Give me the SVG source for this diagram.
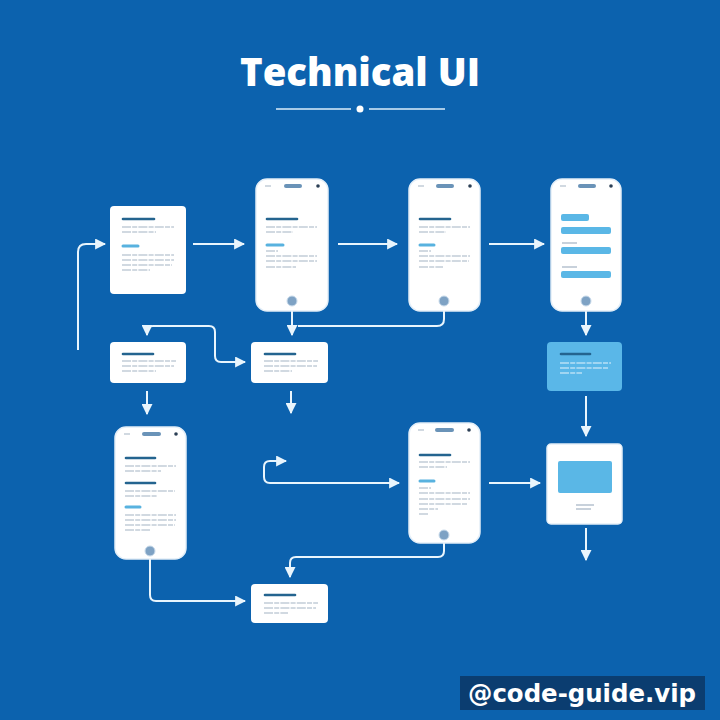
<svg xmlns="http://www.w3.org/2000/svg" width="720" height="720" viewBox="0 0 720 720">
<style>
.bg{fill:#0c62ae}
.card{fill:#ffffff}
.phone{fill:#ffffff;stroke:#e3eef8;stroke-width:1.5}
.dark{stroke:#24648f;stroke-width:2.6;stroke-linecap:round}
.lb{stroke:#58b2df;stroke-width:3;stroke-linecap:round}
.tx{stroke:#a3b3c3;stroke-width:1;stroke-dasharray:9 1.2 5 1.2}
.txs{stroke:#a3b3c3;stroke-width:1.2}
.txw{stroke:#e6f4fc;stroke-width:1;stroke-dasharray:9 1.2 5 1.2}
.pill{fill:#6a93b8}
.dot{fill:#2b3f55}
.home{fill:#7ea2c4;stroke:#c9dbeb;stroke-width:1}
.field{fill:#5ab7e6}
.conn{fill:none;stroke:#e9f5fd;stroke-width:2;stroke-linejoin:round}
.title{font-family:"Open Sans","Liberation Sans",sans-serif;font-weight:800;font-size:38px;fill:#ffffff}
.wm{font-family:"DejaVu Sans","Liberation Sans",sans-serif;font-weight:bold;font-size:24px;fill:#ffffff}
</style>
<defs>
<marker id="ah" viewBox="0 0 10 10" refX="9" refY="5" markerWidth="5.5" markerHeight="5.5" orient="auto-start-reverse">
<path d="M0,0 L10,5 L0,10 Z" fill="#e9f5fd"/>
</marker>
</defs>
<rect class="bg" x="0" y="0" width="720" height="720"/>

<g id="title">
<text class="title" x="360" y="86" text-anchor="middle" textLength="240" lengthAdjust="spacingAndGlyphs">Technical UI</text>
<line x1="276" y1="109" x2="351" y2="109" stroke="#dbeefa" stroke-width="1.5"/>
<circle cx="360" cy="109" r="3.5" fill="#ffffff"/>
<line x1="369" y1="109" x2="445" y2="109" stroke="#dbeefa" stroke-width="1.5"/>
</g>

<g id="connectors">
<path class="conn" d="M78,350 V252 Q78,244 86,244 H105" marker-end="url(#ah)"/>
<path class="conn" d="M193,244 H244" marker-end="url(#ah)"/>
<path class="conn" d="M338,244 H397" marker-end="url(#ah)"/>
<path class="conn" d="M489,244 H544" marker-end="url(#ah)"/>
<path class="conn" d="M292,311 V335" marker-end="url(#ah)"/>
<path class="conn" d="M444,311 V319 Q444,326 437,326 H298"/>
<path class="conn" d="M147,335 V332 Q147,326 153,326 H209 Q215,326 215,332 V356 Q215,362 221,362 H245" marker-start="url(#ah)" marker-end="url(#ah)"/>
<path class="conn" d="M147,391 V414" marker-end="url(#ah)"/>
<path class="conn" d="M291,391 V413" marker-end="url(#ah)"/>
<path class="conn" d="M586,311 V335" marker-end="url(#ah)"/>
<path class="conn" d="M586,396 V436" marker-end="url(#ah)"/>
<path class="conn" d="M586,528 V560" marker-end="url(#ah)"/>
<path class="conn" d="M286,461 H270 Q264,461 264,467 V477 Q264,483 270,483 H399" marker-start="url(#ah)" marker-end="url(#ah)"/>
<path class="conn" d="M489,483 H540" marker-end="url(#ah)"/>
<path class="conn" d="M444,543 V551 Q444,557 438,557 H296 Q290,557 290,563 V577" marker-end="url(#ah)"/>
<path class="conn" d="M150,559 V595 Q150,601 156,601 H245" marker-end="url(#ah)"/>
</g>

<g id="cardA">
<rect class="card" x="110" y="206" width="76" height="88" rx="4"/>
<line class="dark" x1="123" y1="219" x2="154" y2="219"/>
<line class="tx" x1="122" y1="227" x2="174" y2="227"/>
<line class="tx" x1="122" y1="232" x2="156" y2="232"/>
<line class="lb" x1="123" y1="246" x2="138" y2="246"/>
<line class="tx" x1="122" y1="255" x2="174" y2="255"/>
<line class="tx" x1="122" y1="260" x2="174" y2="260"/>
<line class="tx" x1="122" y1="265" x2="172" y2="265"/>
<line class="tx" x1="122" y1="270" x2="150" y2="270"/>
</g>

<g id="phoneB">
<rect class="phone" x="256" y="179" width="72" height="132" rx="11"/>
<line class="tx" x1="265" y1="186" x2="271" y2="186"/>
<rect class="pill" x="284" y="184" width="18" height="4" rx="2"/>
<circle class="dot" cx="318" cy="186" r="1.8"/>
<line class="dark" x1="267" y1="219" x2="297" y2="219"/>
<line class="tx" x1="266" y1="227" x2="317" y2="227"/>
<line class="tx" x1="266" y1="232" x2="293" y2="232"/>
<line class="lb" x1="267" y1="245" x2="283" y2="245"/>
<line class="tx" x1="266" y1="251" x2="278" y2="251"/>
<line class="tx" x1="266" y1="256" x2="317" y2="256"/>
<line class="tx" x1="266" y1="261" x2="317" y2="261"/>
<line class="tx" x1="266" y1="267" x2="296" y2="267"/>
<circle class="home" cx="292" cy="301" r="5"/>
</g>

<g id="phoneC">
<rect class="phone" x="409" y="179" width="71" height="132" rx="11"/>
<line class="tx" x1="418" y1="186" x2="424" y2="186"/>
<rect class="pill" x="436" y="184" width="18" height="4" rx="2"/>
<circle class="dot" cx="470" cy="186" r="1.8"/>
<line class="dark" x1="420" y1="219" x2="450" y2="219"/>
<line class="tx" x1="419" y1="227" x2="470" y2="227"/>
<line class="tx" x1="419" y1="232" x2="446" y2="232"/>
<line class="lb" x1="420" y1="245" x2="434" y2="245"/>
<line class="tx" x1="419" y1="251" x2="431" y2="251"/>
<line class="tx" x1="419" y1="256" x2="470" y2="256"/>
<line class="tx" x1="419" y1="261" x2="469" y2="261"/>
<line class="tx" x1="419" y1="267" x2="443" y2="267"/>
<circle class="home" cx="444" cy="301" r="5"/>
</g>

<g id="phoneD">
<rect class="phone" x="551" y="179" width="70" height="132" rx="11"/>
<line class="tx" x1="560" y1="186" x2="566" y2="186"/>
<rect class="pill" x="578" y="184" width="18" height="4" rx="2"/>
<circle class="dot" cx="611" cy="186" r="1.8"/>
<rect class="field" x="561" y="214" width="28" height="7" rx="2"/>
<rect class="field" x="561" y="227" width="50" height="7" rx="2"/>
<line class="txs" x1="562" y1="243" x2="577" y2="243"/>
<rect class="field" x="561" y="247" width="50" height="7" rx="2"/>
<line class="txs" x1="562" y1="267" x2="577" y2="267"/>
<rect class="field" x="561" y="271" width="50" height="7" rx="2"/>
<circle class="home" cx="586" cy="301" r="5"/>
</g>

<g id="cardE">
<rect class="card" x="110" y="342" width="76" height="41" rx="4"/>
<line class="dark" x1="123" y1="354" x2="153" y2="354"/>
<line class="tx" x1="122" y1="361" x2="176" y2="361"/>
<line class="tx" x1="122" y1="366" x2="174" y2="366"/>
<line class="tx" x1="122" y1="371" x2="156" y2="371"/>
</g>

<g id="cardF">
<rect class="card" x="251" y="342" width="77" height="41" rx="4"/>
<line class="dark" x1="265" y1="354" x2="295" y2="354"/>
<line class="tx" x1="264" y1="361" x2="318" y2="361"/>
<line class="tx" x1="264" y1="366" x2="317" y2="366"/>
<line class="tx" x1="264" y1="371" x2="292" y2="371"/>
</g>

<g id="cardG">
<rect x="547" y="342" width="75" height="49" rx="4" fill="#5ab7e8"/>
<line class="dark" x1="561" y1="354" x2="590" y2="354"/>
<line class="txw" x1="560" y1="363" x2="611" y2="363"/>
<line class="txw" x1="560" y1="368" x2="609" y2="368"/>
<line class="txw" x1="560" y1="373" x2="582" y2="373"/>
</g>

<g id="phoneH">
<rect class="phone" x="115" y="427" width="71" height="132" rx="11"/>
<line class="tx" x1="124" y1="434" x2="130" y2="434"/>
<rect class="pill" x="142" y="432" width="19" height="4" rx="2"/>
<circle class="dot" cx="176" cy="434" r="1.8"/>
<line class="dark" x1="126" y1="458" x2="155" y2="458"/>
<line class="tx" x1="125" y1="466" x2="176" y2="466"/>
<line class="tx" x1="125" y1="471" x2="161" y2="471"/>
<line class="dark" x1="126" y1="483" x2="155" y2="483"/>
<line class="tx" x1="125" y1="491" x2="175" y2="491"/>
<line class="tx" x1="125" y1="496" x2="157" y2="496"/>
<line class="lb" x1="126" y1="507" x2="140" y2="507"/>
<line class="tx" x1="125" y1="515" x2="176" y2="515"/>
<line class="tx" x1="125" y1="520" x2="176" y2="520"/>
<line class="tx" x1="125" y1="525" x2="175" y2="525"/>
<line class="tx" x1="125" y1="530" x2="150" y2="530"/>
<circle class="home" cx="150" cy="551" r="5"/>
</g>

<g id="phoneI">
<rect class="phone" x="409" y="423" width="71" height="120" rx="11"/>
<line class="tx" x1="418" y1="430" x2="424" y2="430"/>
<rect class="pill" x="435" y="428" width="19" height="4" rx="2"/>
<circle class="dot" cx="469" cy="430" r="1.8"/>
<line class="dark" x1="420" y1="455" x2="450" y2="455"/>
<line class="tx" x1="419" y1="462" x2="470" y2="462"/>
<line class="tx" x1="419" y1="467" x2="447" y2="467"/>
<line class="lb" x1="420" y1="481" x2="434" y2="481"/>
<line class="tx" x1="419" y1="488" x2="431" y2="488"/>
<line class="tx" x1="419" y1="493" x2="470" y2="493"/>
<line class="tx" x1="419" y1="499" x2="470" y2="499"/>
<line class="tx" x1="419" y1="504" x2="468" y2="504"/>
<line class="tx" x1="419" y1="509" x2="438" y2="509"/>
<line class="tx" x1="419" y1="514" x2="428" y2="514"/>
<circle class="home" cx="444" cy="535" r="5"/>
</g>

<g id="cardJ">
<rect class="card" x="547" y="444" width="75" height="80" rx="4" stroke="#e3eef8" stroke-width="1.5"/>
<rect class="field" x="558" y="461" width="54" height="32" rx="2"/>
<line class="txs" x1="576" y1="505" x2="594" y2="505"/>
<line class="txs" x1="576" y1="509" x2="591" y2="509"/>
</g>

<g id="cardK">
<rect class="card" x="251" y="584" width="77" height="39" rx="4"/>
<line class="dark" x1="265" y1="595" x2="295" y2="595"/>
<line class="tx" x1="264" y1="603" x2="318" y2="603"/>
<line class="tx" x1="264" y1="608" x2="316" y2="608"/>
<line class="tx" x1="264" y1="613" x2="288" y2="613"/>
</g>

<g id="watermark">
<rect x="460" y="676" width="245" height="34" fill="#0b3d70"/>
<text class="wm" x="582" y="702" text-anchor="middle" textLength="228" lengthAdjust="spacingAndGlyphs">@code-guide.vip</text>
</g>
</svg>
